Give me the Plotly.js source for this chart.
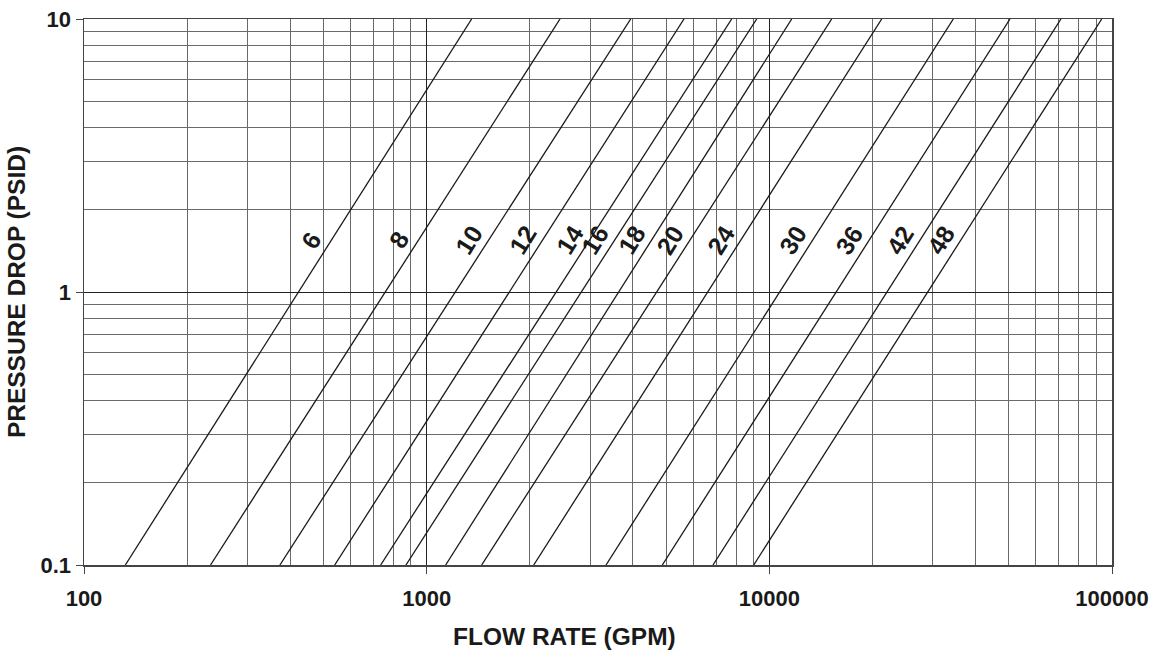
<!DOCTYPE html>
<html>
<head>
<meta charset="utf-8">
<script src="https://cdn.plot.ly/plotly-3.0.1.min.js"></script>
<style>
  html, body { margin: 0; padding: 0; background: #ffffff; }
  #chart { width: 1156px; height: 651px; }
</style>
</head>
<body>
<div id="chart"></div>
<script>
// Pipe / valve sizes (labels on each curve)
const sizes = ["6", "8", "10", "12", "14", "16", "18", "20", "24", "30", "36", "42", "48"];
// Flow rate (GPM) where each curve crosses 0.1 PSID
const flowAtLowDrop = [132, 234, 373, 539, 734, 870, 1136, 1447, 2053, 3337, 4872, 6848, 9003];
// Flow rate (GPM) where each curve crosses 10 PSID
const flowAtHighDrop = [1353, 2450, 3939, 5636, 7766, 9186, 11623, 15205, 21279, 34430, 50390, 70970, 93330];
// Pressure drops (PSID) at the two ends of every curve
const dropEnds = [0.1, 10];
// Pressure drop (PSID) at which the size labels sit
const labelDrop = 1.55;

const xTickVals = [100, 1000, 10000, 100000];
const xTickText = ["100", "1000", "10000", "100000"];
const yTickVals = [0.1, 1, 10];
const yTickText = ["0.1", "1", "10"];
const xTitle = "FLOW RATE (GPM)";
const yTitle = "PRESSURE DROP (PSID)";

function minorVals(lo, hi) {
  const v = [];
  for (let d = lo; d < hi; d *= 10) {
    for (let m = 2; m <= 9; m++) v.push(m * d);
  }
  return v;
}

const traces = sizes.map((s, i) => ({
  type: "scatter",
  mode: "lines",
  name: s,
  x: [flowAtLowDrop[i], flowAtHighDrop[i]],
  y: dropEnds.slice(),
  line: { color: "#1a1a1a", width: 1.3 },
  hoverinfo: "name+x+y",
  showlegend: false
}));

const labelFont = { family: "Liberation Sans, Arial, sans-serif", size: 25, color: "#1a1a1a", weight: "bold" };

const annotations = sizes.map((s, i) => {
  const lx0 = Math.log10(flowAtLowDrop[i]);
  const lx1 = Math.log10(flowAtHighDrop[i]);
  const ly0 = Math.log10(dropEnds[0]);
  const ly1 = Math.log10(dropEnds[1]);
  const f = (Math.log10(labelDrop) - ly0) / (ly1 - ly0);
  return {
    x: lx0 + f * (lx1 - lx0),
    y: Math.log10(labelDrop),
    xref: "x", yref: "y",
    text: "<b>" + s + "</b>",
    showarrow: false,
    textangle: -58,
    xshift: -20,
    font: labelFont
  };
});

const tickFont = { family: "Liberation Sans, Arial, sans-serif", size: 22, color: "#1a1a1a", weight: "bold" };
const titleFont = { family: "Liberation Sans, Arial, sans-serif", size: 24.5, color: "#1a1a1a", weight: "bold" };

annotations.push({
  xref: "paper", yref: "paper",
  x: 0.467, y: 0,
  xanchor: "center", yanchor: "middle",
  yshift: -71,
  text: "<b>" + xTitle + "</b>",
  showarrow: false,
  font: titleFont
});

const layout = {
  width: 1156,
  height: 651,
  margin: { l: 84, r: 44, t: 19, b: 86 },
  paper_bgcolor: "#ffffff",
  plot_bgcolor: "#ffffff",
  showlegend: false,
  xaxis: {
    type: "log",
    range: [2, 5],
    tickvals: xTickVals,
    ticktext: xTickText,
    ticks: "outside",
    ticklen: 7,
    tickcolor: "#444",
    tickfont: tickFont,
    ticklabelstandoff: 6,
    showgrid: true,
    gridcolor: "#222",
    gridwidth: 1,
    minor: { tickvals: minorVals(100, 100000), showgrid: true, gridcolor: "#6a6a6a", gridwidth: 1, ticks: "" },
    showline: true,
    linecolor: "#444",
    linewidth: 1.5,
    mirror: true,
    zeroline: false
  },
  yaxis: {
    type: "log",
    range: [-1, 1],
    tickvals: yTickVals,
    ticktext: yTickText,
    ticks: "outside",
    ticklen: 7,
    tickcolor: "#444",
    tickfont: tickFont,
    showgrid: true,
    gridcolor: "#222",
    gridwidth: 1,
    minor: { tickvals: minorVals(0.1, 10), showgrid: true, gridcolor: "#6a6a6a", gridwidth: 1, ticks: "" },
    showline: true,
    linecolor: "#444",
    linewidth: 1.5,
    mirror: true,
    zeroline: false,
    title: { text: "<b>" + yTitle + "</b>", font: titleFont, standoff: 8 }
  },
  annotations: annotations
};

Plotly.newPlot("chart", traces, layout, { displayModeBar: false, staticPlot: true });
</script>
</body>
</html>
